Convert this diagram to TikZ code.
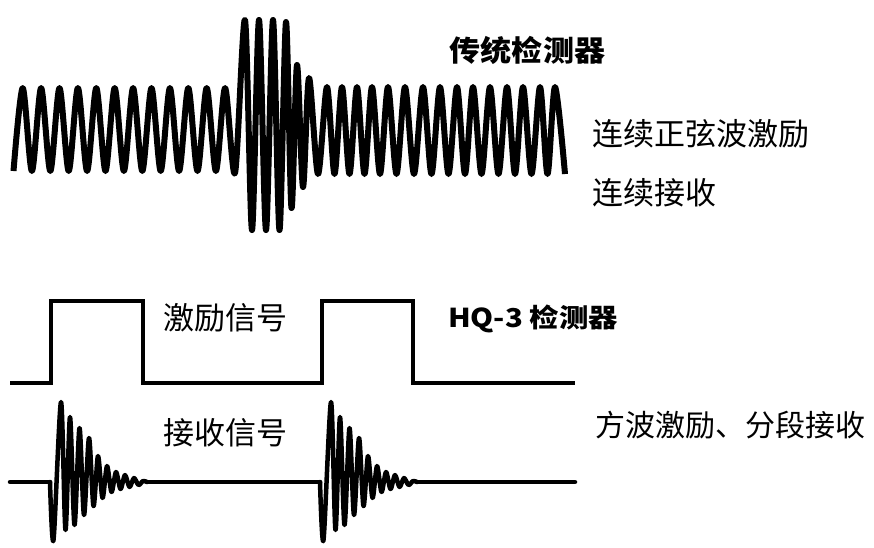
\documentclass[tikz,border=0pt]{standalone}
\usepackage{fontspec}
\usepackage{graphicx}
\newfontfamily\cjk{Noto Sans CJK SC}
\tikzset{
  wave/.style={line width=6pt, line join=round, line cap=round, black},
  sqwave/.style={line width=4.8pt, line join=miter, black},
  rxwave/.style={line width=4.5pt, line join=round, line cap=round, black},
  lbl/.style={inner sep=0pt, outer sep=0pt, text=black},
}
\begin{document}
\begin{tikzpicture}[x=1pt,y=-1pt]
\useasboundingbox (0,0) rectangle (874,547);

% continuous sine with burst
\draw[wave, line cap=butt] plot[smooth, tension=0.5] coordinates {
 (13.5,171) (22.7,88) (31.9,171) (41.1,88) (50.3,171) (59.5,88) (68.7,171)
 (77.9,88) (87.1,171) (96.3,88) (105.5,171) (114.7,88) (123.9,171) (133.1,88)
 (142.3,171) (151.5,88) (160.7,171) (169.9,88) (179.1,171) (188.3,88)
 (197.5,171) (206.7,88) (215.9,171) (225.1,88) (235,173)
 (245,20) (252,230) (259,20) (266,230) (273,20) (279.5,230) (286,22)
 (291.5,208) (297,65) (303,187) (309,78) (318,174) (327,87) (334.5,174)
 (342,87) (349.5,174) (357,87) (364.5,174) (372,87) (380,174) (388,87)
 (396.5,174) (405,87) (414,174) (423,87) (431.5,174) (440,87) (448.5,174)
 (457,87) (465,174) (473,87) (481.5,174) (490,87) (498.5,174) (507,87)
 (515,174) (523,87) (531.5,174) (540,87) (547.5,174) (555,87) (565,174)};

% square-wave excitation
\draw[sqwave] (10,383) -- (51,383) -- (51,301) -- (143,301) -- (143,383)
  -- (322,383) -- (322,301) -- (413,301) -- (413,383) -- (575,383);

% received signal
\draw[rxwave] (10,482) -- (50,482);
\foreach \dx in {0,270}{
  \begin{scope}[shift={(\dx,0)}]
  \draw[rxwave] plot[smooth, tension=0.5] coordinates {
   (50,482) (53.5,540) (61,402) (65.5,530) (70,417) (74.5,525) (79.5,428)
   (84,515) (89,438) (93.5,506) (98,456) (102.5,498) (107,466) (111.5,492)
   (116,472) (120.5,489) (125,475) (129.5,487) (134,478) (138.5,485)
   (143,481) (147,482)};
  \end{scope}
}
\draw[rxwave] (147,482) -- (320,482);
\draw[rxwave] (417,482) -- (575,482);

% labels
\node[lbl, font=\cjk\bfseries\fontsize{29}{31}\selectfont] (t1) at (527.5,50.5) {\scalebox{1.07}[1]{传统检测器}};
\node[lbl, anchor=west, font=\cjk\fontsize{31}{34}\selectfont] (t2) at (592,133.5) {连续正弦波激励};
\node[lbl, anchor=west, font=\cjk\fontsize{31}{34}\selectfont] (t3) at (592,192.5) {连续接收};
\node[lbl, anchor=west, font=\cjk\fontsize{31}{34}\selectfont] (t4) at (163,317.5) {激励信号};
\node[lbl, anchor=west, font=\cjk\fontsize{31}{34}\selectfont] (t5) at (163,432.5) {接收信号};
\node[lbl, anchor=west, font=\cjk\bfseries\fontsize{26}{28}\selectfont] (t6) at (448,319) {\scalebox{1.13}[1]{HQ-3 检测器}};
\node[lbl, anchor=west, font=\cjk\fontsize{30}{33}\selectfont] (t7) at (595,425) {方波激励、分段接收};
\end{tikzpicture}
\end{document}
